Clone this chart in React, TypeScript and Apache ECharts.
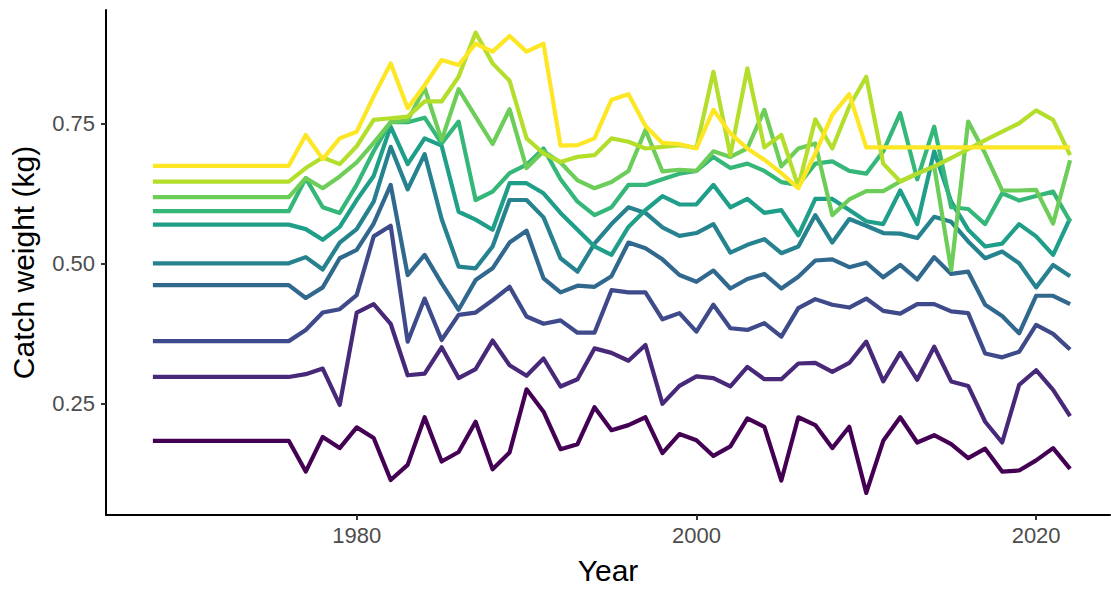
import { useEffect, useRef } from "react";
import * as echarts from "echarts";

// Survey years, one value per year for every size group
const firstYear = 1968;
const lastYear = 2022;
const years: number[] = [];
for (let y = firstYear; y <= lastYear; y++) years.push(y);

const xTicks = [1980, 2000, 2020];
const yTicks = [0.25, 0.5, 0.75];

const groupColors = [
  "#440154", "#482878", "#3E4A89", "#31688E", "#26828E",
  "#1F9E89", "#35B779", "#6DCD59", "#B4DE2C", "#FDE725",
];

const g1 = [
  0.183, 0.183, 0.183, 0.183, 0.183, 0.183, 0.183, 0.183, 0.183,
  0.128, 0.190, 0.170, 0.207, 0.188, 0.113, 0.140, 0.225, 0.146, 0.163,
  0.217, 0.132, 0.162, 0.275, 0.235, 0.168, 0.177, 0.243, 0.202, 0.211,
  0.225, 0.161, 0.195, 0.184, 0.156, 0.173, 0.223, 0.208, 0.112, 0.225,
  0.211, 0.170, 0.208, 0.090, 0.183, 0.225, 0.180, 0.193, 0.177, 0.152,
  0.169, 0.128, 0.130, 0.148, 0.170, 0.133,
];
const g2 = [
  0.297, 0.297, 0.297, 0.297, 0.297, 0.297, 0.297, 0.297, 0.297,
  0.302, 0.312, 0.247, 0.412, 0.427, 0.392, 0.300, 0.303, 0.350, 0.295,
  0.311, 0.362, 0.318, 0.299, 0.330, 0.280, 0.293, 0.348, 0.340, 0.326,
  0.354, 0.249, 0.281, 0.298, 0.295, 0.280, 0.315, 0.293, 0.293, 0.321,
  0.322, 0.306, 0.322, 0.360, 0.289, 0.340, 0.292, 0.351, 0.289, 0.281,
  0.217, 0.180, 0.283, 0.309, 0.274, 0.227,
];
const g3 = [
  0.361, 0.361, 0.361, 0.361, 0.361, 0.361, 0.361, 0.361, 0.361,
  0.381, 0.412, 0.418, 0.443, 0.548, 0.567, 0.360, 0.437, 0.363, 0.408,
  0.412, 0.434, 0.458, 0.405, 0.392, 0.398, 0.376, 0.376, 0.452, 0.448,
  0.448, 0.400, 0.411, 0.378, 0.426, 0.384, 0.381, 0.393, 0.369, 0.420,
  0.436, 0.426, 0.421, 0.437, 0.415, 0.410, 0.427, 0.427, 0.414, 0.411,
  0.339, 0.332, 0.342, 0.390, 0.374, 0.346,
];
const g4 = [
  0.461, 0.461, 0.461, 0.461, 0.461, 0.461, 0.461, 0.461, 0.461,
  0.438, 0.457, 0.509, 0.524, 0.571, 0.640, 0.479, 0.515, 0.464, 0.417,
  0.470, 0.491, 0.537, 0.558, 0.473, 0.448, 0.460, 0.458, 0.477, 0.537,
  0.527, 0.507, 0.479, 0.467, 0.487, 0.455, 0.472, 0.481, 0.455, 0.476,
  0.505, 0.507, 0.493, 0.501, 0.475, 0.497, 0.471, 0.511, 0.481, 0.485,
  0.426, 0.406, 0.375, 0.442, 0.442, 0.427,
];
const g5 = [
  0.500, 0.500, 0.500, 0.500, 0.500, 0.500, 0.500, 0.500, 0.500,
  0.511, 0.489, 0.537, 0.561, 0.610, 0.708, 0.632, 0.695, 0.579, 0.494,
  0.491, 0.530, 0.613, 0.613, 0.582, 0.509, 0.485, 0.535, 0.570, 0.600,
  0.590, 0.564, 0.549, 0.554, 0.570, 0.519, 0.533, 0.543, 0.518, 0.530,
  0.586, 0.537, 0.579, 0.567, 0.554, 0.553, 0.545, 0.583, 0.574, 0.539,
  0.509, 0.521, 0.500, 0.457, 0.497, 0.477,
];
const g6 = [
  0.569, 0.569, 0.569, 0.569, 0.569, 0.569, 0.569, 0.569, 0.569,
  0.561, 0.542, 0.565, 0.613, 0.656, 0.744, 0.677, 0.723, 0.710, 0.592,
  0.578, 0.560, 0.643, 0.643, 0.625, 0.590, 0.560, 0.530, 0.515, 0.565,
  0.595, 0.620, 0.605, 0.605, 0.640, 0.600, 0.615, 0.590, 0.595, 0.550,
  0.615, 0.615, 0.595, 0.575, 0.570, 0.630, 0.570, 0.700, 0.610, 0.560,
  0.530, 0.535, 0.570, 0.548, 0.515, 0.580,
];
const g7 = [
  0.593, 0.593, 0.593, 0.593, 0.593, 0.593, 0.593, 0.593, 0.593,
  0.652, 0.600, 0.590, 0.640, 0.700, 0.752, 0.752, 0.760, 0.714, 0.753,
  0.613, 0.628, 0.661, 0.676, 0.705, 0.650, 0.610, 0.586, 0.600, 0.640,
  0.640, 0.650, 0.660, 0.665, 0.690, 0.670, 0.678, 0.665, 0.645, 0.640,
  0.678, 0.682, 0.665, 0.660, 0.700, 0.768, 0.650, 0.744, 0.600, 0.597,
  0.570, 0.625, 0.612, 0.620, 0.628, 0.575,
];
const g8 = [
  0.618, 0.618, 0.618, 0.618, 0.618, 0.618, 0.618, 0.618, 0.618,
  0.652, 0.634, 0.655, 0.680, 0.715, 0.752, 0.755, 0.813, 0.720, 0.811,
  0.762, 0.713, 0.775, 0.670, 0.700, 0.680, 0.648, 0.634, 0.645, 0.665,
  0.738, 0.664, 0.667, 0.665, 0.700, 0.690, 0.705, 0.774, 0.673, 0.705,
  0.714, 0.586, 0.614, 0.629, 0.629, 0.646, 0.660, 0.673, 0.488, 0.753,
  0.696, 0.630, 0.630, 0.631, 0.571, 0.684,
];
const g9 = [
  0.646, 0.646, 0.646, 0.646, 0.646, 0.646, 0.646, 0.646, 0.646,
  0.670, 0.689, 0.677, 0.709, 0.756, 0.759, 0.762, 0.789, 0.789, 0.833,
  0.912, 0.857, 0.826, 0.723, 0.696, 0.681, 0.690, 0.693, 0.723, 0.717,
  0.705, 0.708, 0.711, 0.706, 0.842, 0.693, 0.848, 0.707, 0.729, 0.637,
  0.757, 0.705, 0.780, 0.833, 0.678, 0.646, 0.660, 0.673, 0.688, 0.704,
  0.720, 0.735, 0.750, 0.773, 0.756, 0.693,
];
const g10 = [
  0.674, 0.674, 0.674, 0.674, 0.674, 0.674, 0.674, 0.674, 0.674,
  0.729, 0.686, 0.723, 0.735, 0.798, 0.857, 0.777, 0.818, 0.863, 0.854,
  0.892, 0.878, 0.906, 0.878, 0.892, 0.710, 0.711, 0.723, 0.792, 0.802,
  0.745, 0.715, 0.713, 0.705, 0.774, 0.732, 0.705, 0.685, 0.661, 0.634,
  0.696, 0.765, 0.802, 0.707, 0.707, 0.707, 0.707, 0.707, 0.707, 0.707,
  0.707, 0.707, 0.707, 0.707, 0.707, 0.707,
];

const groups = [g1, g2, g3, g4, g5, g6, g7, g8, g9, g10];

const tickText = "#4D4D4D";
const fontFamily = "'Liberation Sans', Arial, sans-serif";

export default function App() {
  const ref = useRef<HTMLDivElement>(null);

  useEffect(() => {
    if (!ref.current) return;
    const chart = echarts.init(ref.current, undefined, { renderer: "svg" });
    chart.setOption({
      animation: false,
      backgroundColor: "#ffffff",
      grid: { left: 105, right: 1, top: 10, bottom: 75, containLabel: false },
      xAxis: {
        type: "value",
        min: 1965.24,
        max: 2024.35,
        name: "Year",
        nameLocation: "middle",
        nameGap: 40,
        nameTextStyle: { color: "#000", fontSize: 30, fontFamily },
        axisLine: { show: true, onZero: false, lineStyle: { color: "#000", width: 2 } },
        axisTick: { show: true, length: 5, customValues: xTicks, lineStyle: { color: "#333", width: 2 } },
        axisLabel: {
          customValues: xTicks,
          color: tickText,
          fontSize: 22,
          fontFamily,
          margin: 9,
          formatter: (v: number) => String(Math.round(v)),
        },
        splitLine: { show: false },
      },
      yAxis: {
        type: "value",
        min: 0.0505,
        max: 0.9523,
        name: "Catch weight (kg)",
        nameLocation: "middle",
        nameGap: 68,
        nameRotate: 90,
        nameTextStyle: { color: "#000", fontSize: 30, fontFamily },
        axisLine: { show: true, onZero: false, lineStyle: { color: "#000", width: 2 } },
        axisTick: { show: true, length: 5, customValues: yTicks, lineStyle: { color: "#333", width: 2 } },
        axisLabel: {
          customValues: yTicks,
          color: tickText,
          fontSize: 22,
          fontFamily,
          margin: 11,
          formatter: (v: number) => v.toFixed(2),
        },
        splitLine: { show: false },
      },
      series: groups.map((vals, i) => ({
        type: "line",
        data: years.map((yr, j) => [yr, vals[j]]),
        showSymbol: false,
        symbol: "none",
        lineStyle: { color: groupColors[i], width: 4.2, join: "round", cap: "butt" },
        z: 2 + i,
      })),
    });
    return () => chart.dispose();
  }, []);

  return (
    <div
      ref={ref}
      style={{ position: "absolute", left: 0, top: 0, width: 1111, height: 590 }}
    />
  );
}
